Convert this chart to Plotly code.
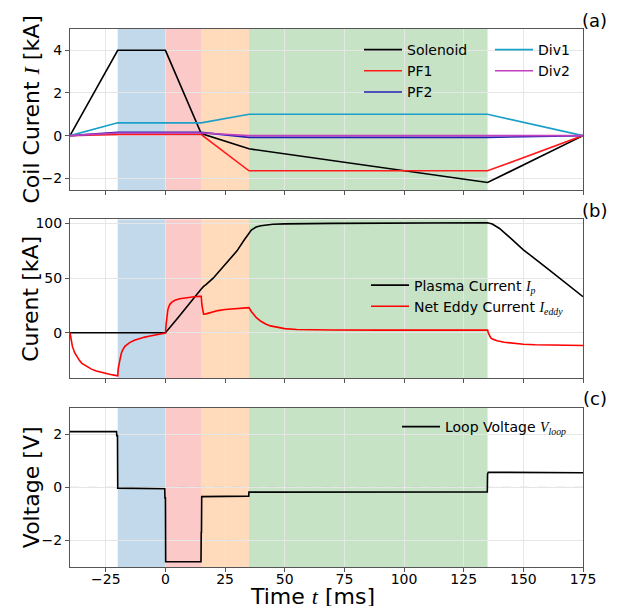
import plotly.graph_objects as go

# ---------------- data ----------------
# (a) coil currents [kA]
t_coil = [-40, -20, 0, 15, 35, 135, 175]
solenoid = [0, 4.0, 4.0, 0.1, -0.62, -2.2, 0]
pf1 = [0, 0.05, 0.05, 0.05, -1.65, -1.65, 0]
pf2 = [0, 0.15, 0.15, 0.15, -0.08, -0.08, 0]
div1 = [0, 0.6, 0.6, 0.6, 1.0, 1.0, 0]
div2 = [0, 0.12, 0.12, 0.12, 0.0, 0.0, 0]

# (b) plasma current [kA]
t_ip = [-40, -20, 0, 5, 10, 15, 16, 17, 20, 25, 30, 33, 35, 36, 38, 40, 45, 50, 70,
        100, 135, 137, 140, 145, 150, 160, 170, 175]
ip = [0, 0, 0, 13, 27, 40, 42.5, 44, 50, 62, 75, 85, 91, 94, 96.8, 98, 99.3, 99.7, 100.2,
      100.5, 100.8, 99.5, 95.5, 86, 76, 59, 42, 33]

# (b) net eddy current [kA]
t_eddy = [-40, -39.5, -39, -38, -37, -36, -35, -33, -31, -29, -27, -25, -23, -21, -20.1,
          -20, -19.8, -19.5, -19, -18.5, -18, -17, -16, -15, -13, -11, -9, -7, -5, -3, -1, -0.1,
          0, 0.3, 0.6, 1, 1.5, 2, 3, 4, 6, 8, 10, 12, 14, 14.9,
          15, 15.3, 15.6, 16, 17, 18, 20, 22, 25, 28, 31, 34, 34.9,
          35, 36, 37, 38, 40, 42, 44, 47, 50, 55, 60, 70, 90, 110, 134.9,
          135, 135.3, 135.7, 136.3, 137, 139, 142, 146, 150, 155, 160, 165, 170, 175]
eddy = [0, -7, -12.5, -18.5, -22.5, -25.5, -28, -31, -33.3, -35, -36.3, -37.3, -38.2, -39, -39.4,
        -39.4, -33, -28, -24, -19, -16, -12.5, -10.3, -9, -6.8, -5.3, -4.2, -3.2, -2.2, -1.3, -0.6, -0.2,
        -0.2, 8, 16, 21, 24.5, 26.5, 28.5, 29.8, 31.2, 32, 32.6, 33, 33.3, 33.4,
        33.4, 25, 19, 17, 17.3, 18, 19.3, 20.3, 21.3, 22, 22.5, 22.9, 23,
        23, 19.5, 16.5, 14, 10.5, 8, 6.3, 4.8, 3.8, 3.0, 2.7, 2.5, 2.4, 2.4, 2.4,
        2.4, 0, -2.5, -4.5, -5.8, -7.4, -8.7, -9.8, -10.5, -11, -11.3, -11.5, -11.6, -11.7]

# (c) loop voltage [V]
t_v = [-40, -20.5, -20.4, -20.1, -20, -0.3, -0.2, 0, 0.1, 14.9, 15, 15.1, 15.2,
       34.9, 35, 134.9, 135, 135.3, 175]
vloop = [2.1, 2.1, 1.95, 1.95, -0.03, -0.05, -0.4, -0.4, -2.8, -2.8, -1.7, -1.7, -0.35,
         -0.33, -0.18, -0.17, 0.5, 0.57, 0.55]

# phase windows [ms] and colours
phase_edges = [(-20, 0), (0, 15), (15, 35), (35, 135)]
phase_colors = ["rgba(31,119,180,0.28)", "rgba(245,40,40,0.25)",
                "rgba(255,127,14,0.28)", "rgba(44,150,44,0.27)"]

x_ticks = [-25, 0, 25, 50, 75, 100, 125, 150, 175]

# ---------------- figure ----------------
fig = go.Figure()

SER = "font-family:'Liberation Serif', serif"

def line(x, y, name, color, xa, ya, legend):
    fig.add_trace(go.Scatter(x=x, y=y, name=name, mode="lines",
                             line=dict(color=color, width=1.6),
                             xaxis=xa, yaxis=ya, legend=legend))

line(t_coil, solenoid, "Solenoid", "black", "x", "y", "legend")
line(t_coil, pf1, "PF1", "#ff1a1a", "x", "y", "legend")
line(t_coil, pf2, "PF2", "#2020b0", "x", "y", "legend")
line(t_coil, div1, "Div1", "#1aa0c8", "x", "y", "legend2")
line(t_coil, div2, "Div2", "#c040c0", "x", "y", "legend2")

line(t_ip, ip, f"Plasma Current <span style=\"{SER}\"><i>I</i><sub><i>p</i></sub></span>",
     "black", "x2", "y2", "legend3")
line(t_eddy, eddy, f"Net Eddy Current <span style=\"{SER}\"><i>I</i><sub><i>eddy</i></sub></span>",
     "#ff0000", "x2", "y2", "legend3")

line(t_v, vloop, f"Loop Voltage <span style=\"{SER}\"><i>V</i><sub><i>loop</i></sub></span>",
     "black", "x3", "y3", "legend4")

# geometry (pixels -> paper)
W, H = 621, 606
L, R, T, B = 70, 38, 29, 39
PH = H - T - B
def py(p):
    return (H - B - p) / PH
def px(p):
    return (p - L) / (W - L - R)

doms = [(py(190), 1.0), (py(378.3), py(219.3)), (0.0, py(407.7))]
yranges = [[-2.55, 5.0], [-41.7, 103.9], [-3.0, 3.0]]
ytickv = [[-2, 0, 2, 4], [0, 50, 100], [-2, 0, 2]]

axis_common = dict(showline=True, mirror=True, linecolor="#555", linewidth=1,
                   ticks="outside", ticklen=4, tickcolor="#555", tickwidth=1,
                   showgrid=True, gridcolor="#e6e6e6", gridwidth=1, zeroline=False,
                   tickfont=dict(family="DejaVu Sans", size=14, color="black"))

for i in range(3):
    sx = "" if i == 0 else str(i + 1)
    fig.layout["xaxis" + sx] = dict(axis_common, domain=[0, 1], anchor="y" + sx,
                                    range=[-40, 175], tickvals=x_ticks,
                                    showticklabels=(i == 2), ticklabelstandoff=-5)
    fig.layout["yaxis" + sx] = dict(axis_common, domain=list(doms[i]), anchor="x" + sx,
                                    range=yranges[i], tickvals=ytickv[i])
    for (a, b), c in zip(phase_edges, phase_colors):
        fig.add_shape(type="rect", xref="x" + sx, yref="y" + sx,
                      x0=a, x1=b, y0=yranges[i][0], y1=yranges[i][1],
                      fillcolor=c, line_width=0, layer="below")

# zero reference in (c)
fig.add_shape(type="line", xref="x3", yref="y3", x0=-40, x1=175, y0=0, y1=0,
              line=dict(color="#999", width=0.8, dash="dash"), layer="below")

# panel labels
for lab, top in [("(a)", 29), ("(b)", 219.3), ("(c)", 407.7)]:
    fig.add_annotation(text=lab, xref="paper", yref="paper", x=px(609), y=py(top - 9),
                       xanchor="right", yanchor="middle", showarrow=False,
                       font=dict(family="DejaVu Sans", size=18, color="black"))

# axis titles
ytitles = [f"Coil Curent <span style=\"{SER}\"><i>I</i></span> [kA]", "Curent [kA]", "Voltage [V]"]
centers = [(29 + 190) / 2, (219.3 + 378.3) / 2, (407.7 + 566.7) / 2]
for txt, c in zip(ytitles, centers):
    fig.add_annotation(text=txt, xref="paper", yref="paper", x=px(31), y=py(c),
                       xanchor="center", yanchor="middle", textangle=-90, showarrow=False,
                       font=dict(family="DejaVu Sans", size=22, color="black"))
fig.add_annotation(text=f"Time <span style=\"{SER}\"><i>t</i></span> [ms]", xref="paper", yref="paper",
                   x=px(312), y=py(596), xanchor="center", yanchor="middle", showarrow=False,
                   borderpad=0,
                   font=dict(family="DejaVu Sans", size=22, color="black"))

leg_common = dict(bgcolor="rgba(0,0,0,0)", borderwidth=0, xanchor="left", yanchor="top",
                  itemwidth=38,
                  font=dict(family="DejaVu Sans", size=14, color="black"))
fig.update_layout(
    width=W, height=H, margin=dict(l=L, r=R, t=T, b=B),
    paper_bgcolor="white", plot_bgcolor="white",
    legend=dict(leg_common, x=px(359), y=py(34)),
    legend2=dict(leg_common, x=px(490), y=py(34)),
    legend3=dict(leg_common, x=px(366), y=py(269.5)),
    legend4=dict(leg_common, x=px(397), y=py(411)),
)

fig.write_html("out.html")
